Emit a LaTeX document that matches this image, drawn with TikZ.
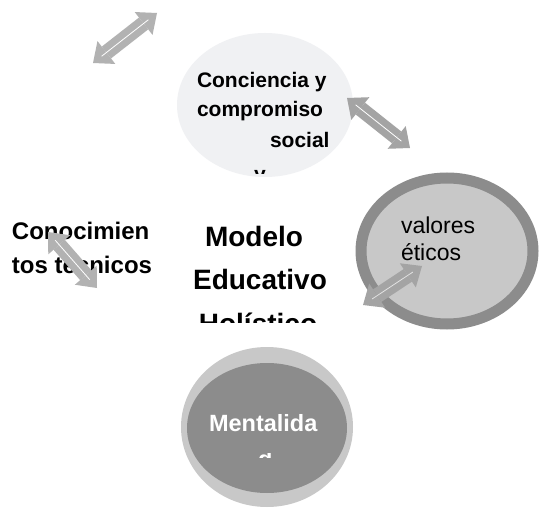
\documentclass[tikz,border=0pt]{standalone}
\usepackage{fontspec}
\setmainfont{Liberation Sans}
\usetikzlibrary{shapes.geometric,arrows.meta}
\definecolor{cloud}{HTML}{F0F1F3}
\definecolor{ringdark}{HTML}{8C8C8C}
\definecolor{fillmid}{HTML}{C8C8C8}
\definecolor{arrowgray}{HTML}{A4A4A4}
\definecolor{arrowlight}{HTML}{B2B2B2}
\definecolor{arrowwhite}{HTML}{E2E2E2}
\begin{document}
\begin{tikzpicture}[x=1pt,y=-1pt,
  blob/.style={ellipse, draw=none, inner sep=0pt, outer sep=0pt},
  bigarrow/.style={draw=#1, line width=15pt,
    {Triangle[width=29pt,length=17pt,line width=0pt]}-{Triangle[width=29pt,length=17pt,line width=0pt]}},
  bigarrow/.default=arrowgray,
  arrowline/.style={draw=white, line width=0.8pt, shorten <=11pt, shorten >=11pt},
  lbl/.style={inner sep=0pt, outer sep=0pt, anchor=base west},
  smalltxt/.style={lbl, font=\bfseries\fontsize{21}{25}\selectfont},
  bigtxt/.style={inner sep=0pt, anchor=base, font=\bfseries\fontsize{28}{32}\selectfont},
  midtxt/.style={lbl, font=\bfseries\fontsize{24}{28}\selectfont},
  valtxt/.style={lbl, font=\fontsize{23}{27}\selectfont},
  menttxt/.style={lbl, text=white, font=\bfseries\fontsize{23.5}{27}\selectfont}]
\useasboundingbox[fill=white] (0,0) rectangle (540,510);

% Conciencia cloud
\node[blob, fill=cloud, minimum width=176pt, minimum height=144pt] (conc) at (265,105) {};
\node[smalltxt] (c1) at (197,88) {Conciencia y};
\node[smalltxt] (c2) at (197,117) {compromiso};
\node[smalltxt] (c3) at (270,148) {social};
\begin{scope}
  \clip (245,170) rectangle (280,174);
  \node[smalltxt] (c4) at (254,182) {y};
\end{scope}

% valores ring
\node[blob, fill=fillmid, draw=ringdark, line width=11pt, minimum width=172pt, minimum height=146pt] (val) at (447,251) {};
\node[valtxt] (v1) at (401,234) {valores};
\node[valtxt] (v2) at (401,261) {éticos};

% Mentalidad
\node[blob, fill=fillmid, minimum width=172pt, minimum height=160pt] (mentout) at (267,427) {};
\node[blob, fill=ringdark, minimum width=160pt, minimum height=130pt] (mentin) at (267,428) {};
\node[menttxt] (m1) at (209,431) {Mentalida};
\begin{scope}
  \clip (250,453) rectangle (280,457);
  \node[menttxt] (m2) at (258,467) {d};
\end{scope}

% Modelo Educativo Holistico
\node[bigtxt] (t1) at (254,247) {Modelo};
\node[bigtxt] (t2) at (260,290) {Educativo};
\begin{scope}
  \clip (180,300) rectangle (340,322);
  \node[bigtxt] (t3) at (258,333) {Holístico};
\end{scope}

% Conocimientos tecnicos
\node[midtxt] (k1) at (12,240) {Conocimien};
\node[midtxt] (k2) at (12,273) {tos técnicos};

% double arrows
\coordinate (a1s) at (93,63);  \coordinate (a1e) at (157,13);
\coordinate (a2s) at (347,98); \coordinate (a2e) at (410,148);
\coordinate (a3s) at (48,232); \coordinate (a3e) at (97,288);
\coordinate (a4s) at (363,305); \coordinate (a4e) at (422,266);
\draw[bigarrow=arrowlight] (a1s) -- (a1e);
\draw[arrowline] (a1s) -- (a1e);
\draw[bigarrow] (a2s) -- (a2e);
\draw[arrowline] (a2s) -- (a2e);
\draw[bigarrow=arrowlight] (a3s) -- (a3e);
\draw[arrowline] (a3s) -- (a3e);
\draw[bigarrow=arrowgray] (a4s) -- (a4e);
\draw[arrowline, draw=arrowwhite] (a4s) -- (a4e);
\end{tikzpicture}
\end{document}
